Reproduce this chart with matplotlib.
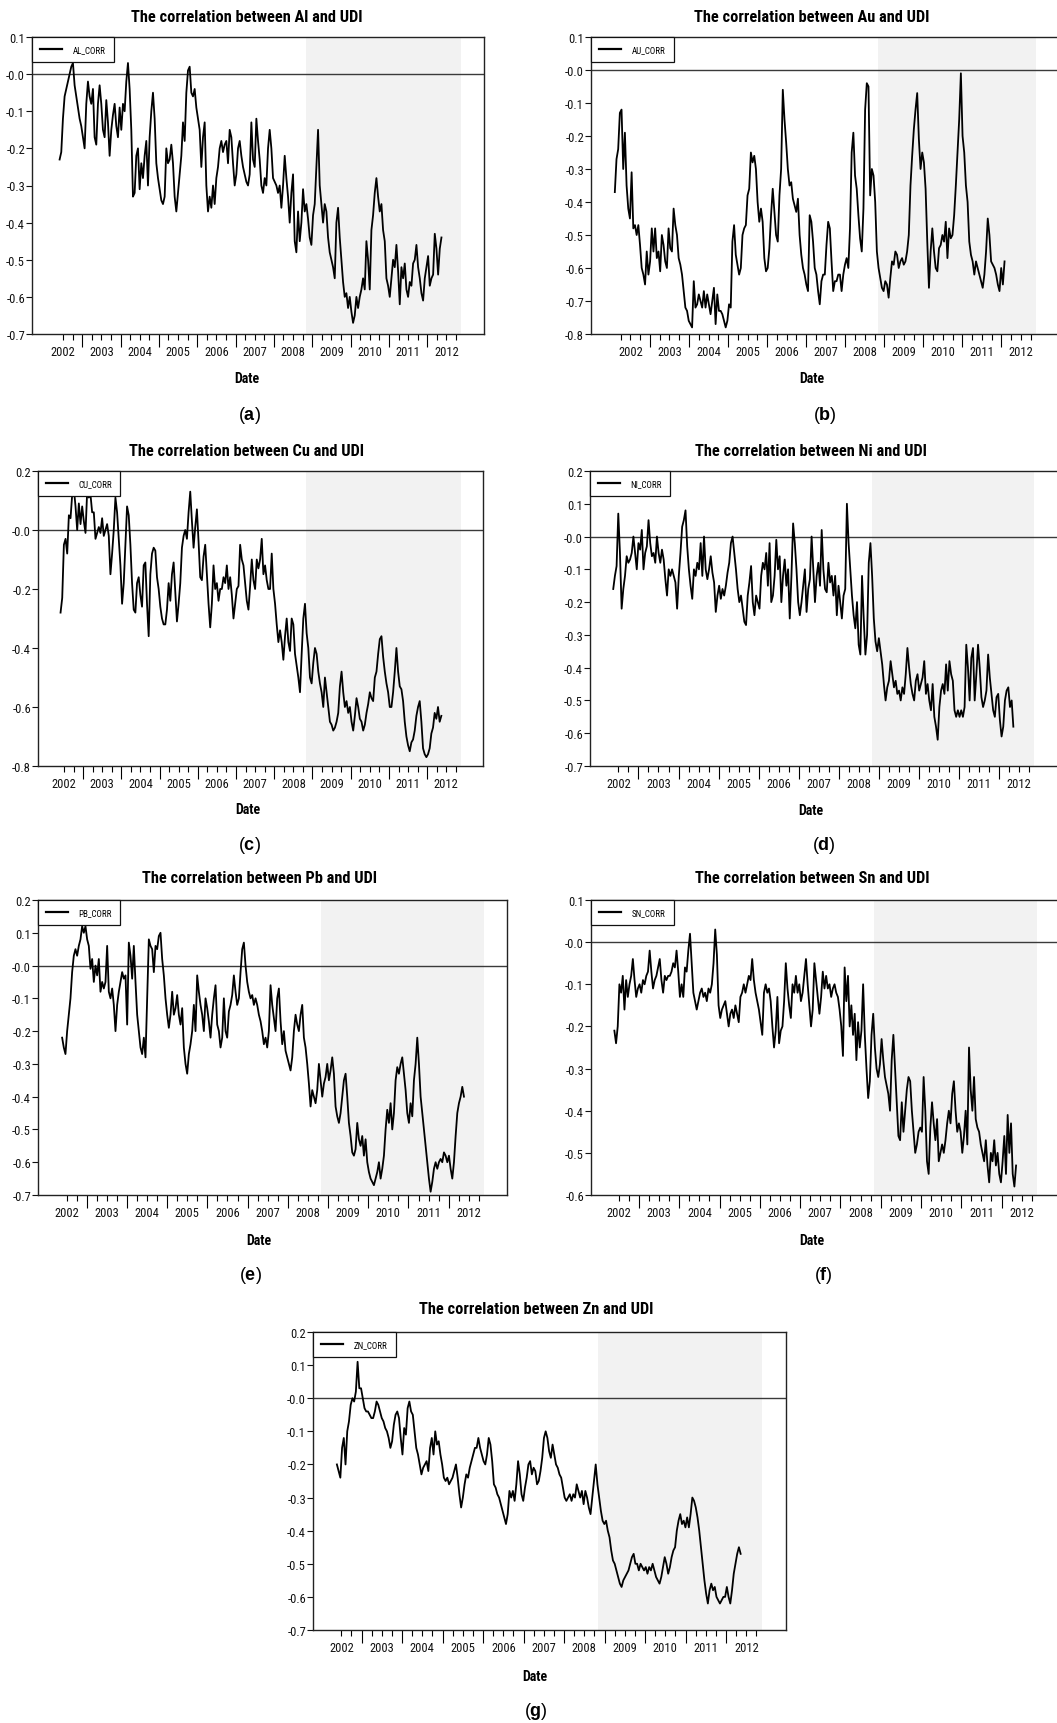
import matplotlib
matplotlib.use("Agg")
import matplotlib.pyplot as plt
import numpy as np
from matplotlib.ticker import FuncFormatter

W, H, DPI = 1057, 1724, 100

NARROW = ["Liberation Sans Narrow", "Roboto Condensed", "PT Sans Narrow", "Liberation Sans"]

plt.rcParams.update({
    "font.family": NARROW,
    "mathtext.fontset": "custom",
    "mathtext.rm": "Liberation Sans",
    "mathtext.bf": "Liberation Sans:bold",
    "axes.linewidth": 1.0,
    "axes.edgecolor": "#222222",
})

# ---------------- data ----------------
YEARS = list(range(2002, 2013))
CRISIS = (2008.83, 2012.88)

AL_SPAN = (2002.41, 2012.37)
AL_CORR = [
    -0.23, -0.21, -0.12, -0.06, -0.04, -0.02, 0.00, 0.02, 0.03, -0.03,
    -0.06, -0.09, -0.12, -0.14, -0.17, -0.20, -0.08, -0.02, -0.06, -0.08,
    -0.04, -0.17, -0.19, -0.08, -0.03, -0.08, -0.15, -0.17, -0.07, -0.13,
    -0.22, -0.15, -0.11, -0.08, -0.14, -0.17, -0.09, -0.15, -0.08, -0.10,
    -0.02, 0.03, -0.04, -0.15, -0.33, -0.32, -0.22, -0.20, -0.31, -0.24,
    -0.28, -0.22, -0.18, -0.30, -0.17, -0.10, -0.05, -0.12, -0.24, -0.28,
    -0.31, -0.34, -0.35, -0.33, -0.20, -0.24, -0.23, -0.19, -0.24, -0.33,
    -0.37, -0.32, -0.27, -0.22, -0.13, -0.18, -0.05, 0.01, 0.02, -0.05,
    -0.06, -0.04, -0.09, -0.12, -0.15, -0.25, -0.17, -0.13, -0.30, -0.37,
    -0.33, -0.36, -0.30, -0.35, -0.28, -0.25, -0.20, -0.18, -0.21, -0.19,
    -0.18, -0.24, -0.15, -0.17, -0.24, -0.30, -0.27, -0.20, -0.18, -0.22,
    -0.25, -0.27, -0.29, -0.30, -0.27, -0.13, -0.23, -0.25, -0.12, -0.18,
    -0.23, -0.30, -0.32, -0.28, -0.30, -0.20, -0.15, -0.20, -0.28, -0.29,
    -0.30, -0.32, -0.30, -0.36, -0.30, -0.22, -0.28, -0.33, -0.40, -0.32,
    -0.27, -0.45, -0.48, -0.37, -0.45, -0.40, -0.31, -0.37, -0.35, -0.39,
    -0.44, -0.46, -0.38, -0.35, -0.25, -0.15, -0.30, -0.35, -0.40, -0.35,
    -0.37, -0.44, -0.48, -0.50, -0.52, -0.55, -0.40, -0.36, -0.44, -0.50,
    -0.56, -0.60, -0.59, -0.63, -0.60, -0.64, -0.67, -0.65, -0.60, -0.63,
    -0.60, -0.58, -0.55, -0.58, -0.45, -0.50, -0.58, -0.42, -0.38, -0.32,
    -0.28, -0.33, -0.37, -0.35, -0.42, -0.45, -0.55, -0.57, -0.60, -0.55,
    -0.50, -0.52, -0.46, -0.53, -0.62, -0.52, -0.55, -0.51, -0.58, -0.60,
    -0.56, -0.57, -0.51, -0.50, -0.46, -0.52, -0.55, -0.59, -0.61, -0.55,
    -0.52, -0.49, -0.57, -0.55, -0.54, -0.43, -0.47, -0.54, -0.47, -0.44,
]

AU_SPAN = (2002.10, 2012.08)
AU_CORR = [
    -0.37, -0.27, -0.24, -0.13, -0.12, -0.30, -0.19, -0.35, -0.42, -0.45,
    -0.31, -0.48, -0.47, -0.50, -0.47, -0.53, -0.60, -0.62, -0.65, -0.55,
    -0.62, -0.58, -0.48, -0.55, -0.48, -0.57, -0.55, -0.61, -0.50, -0.53,
    -0.58, -0.60, -0.48, -0.54, -0.55, -0.42, -0.47, -0.50, -0.57, -0.59,
    -0.62, -0.67, -0.72, -0.73, -0.76, -0.77, -0.78, -0.64, -0.72, -0.71,
    -0.68, -0.70, -0.72, -0.67, -0.72, -0.68, -0.71, -0.74, -0.70, -0.66,
    -0.77, -0.68, -0.73, -0.73, -0.74, -0.76, -0.78, -0.76, -0.71, -0.72,
    -0.52, -0.47, -0.56, -0.59, -0.62, -0.60, -0.50, -0.48, -0.47, -0.38,
    -0.36, -0.25, -0.28, -0.26, -0.30, -0.40, -0.46, -0.42, -0.46, -0.57,
    -0.61, -0.60, -0.54, -0.44, -0.36, -0.43, -0.50, -0.52, -0.38, -0.30,
    -0.06, -0.15, -0.22, -0.30, -0.35, -0.34, -0.39, -0.41, -0.43, -0.39,
    -0.50, -0.56, -0.60, -0.62, -0.65, -0.67, -0.44, -0.46, -0.52, -0.60,
    -0.62, -0.67, -0.71, -0.64, -0.62, -0.62, -0.53, -0.46, -0.48, -0.58,
    -0.67, -0.64, -0.64, -0.62, -0.62, -0.67, -0.62, -0.59, -0.57, -0.60,
    -0.48, -0.25, -0.19, -0.32, -0.36, -0.44, -0.51, -0.55, -0.42, -0.12,
    -0.04, -0.05, -0.38, -0.30, -0.32, -0.40, -0.55, -0.60, -0.63, -0.66,
    -0.67, -0.64, -0.65, -0.69, -0.63, -0.58, -0.59, -0.55, -0.56, -0.60,
    -0.58, -0.57, -0.59, -0.58, -0.55, -0.50, -0.35, -0.26, -0.18, -0.12,
    -0.07, -0.21, -0.30, -0.25, -0.28, -0.36, -0.52, -0.66, -0.55, -0.48,
    -0.55, -0.60, -0.61, -0.54, -0.53, -0.50, -0.52, -0.46, -0.57, -0.48,
    -0.51, -0.50, -0.44, -0.35, -0.25, -0.15, -0.01, -0.20, -0.25, -0.35,
    -0.40, -0.52, -0.56, -0.58, -0.62, -0.58, -0.60, -0.62, -0.64, -0.66,
    -0.62, -0.55, -0.45, -0.50, -0.58, -0.59, -0.60, -0.62, -0.65, -0.67,
    -0.60, -0.65, -0.58,
]

CU_SPAN = (2002.41, 2012.37)
CU_CORR = [
    -0.28, -0.23, -0.05, -0.03, -0.08, 0.05, 0.04, 0.12, 0.14, 0.08,
    0.00, 0.09, 0.02, 0.08, 0.03, -0.01, 0.13, 0.11, 0.12, 0.06,
    0.06, -0.03, -0.01, 0.01, -0.01, 0.04, -0.02, 0.00, 0.02, -0.02,
    -0.15, -0.08, 0.00, 0.11, 0.06, -0.03, -0.12, -0.25, -0.18, -0.05,
    0.08, 0.05, -0.05, -0.18, -0.27, -0.28, -0.18, -0.16, -0.22, -0.26,
    -0.12, -0.11, -0.25, -0.36, -0.15, -0.08, -0.06, -0.07, -0.16, -0.20,
    -0.26, -0.30, -0.32, -0.32, -0.27, -0.18, -0.24, -0.15, -0.11, -0.21,
    -0.31, -0.25, -0.18, -0.06, -0.02, 0.00, -0.03, 0.06, 0.13, 0.03,
    -0.06, 0.01, 0.07, -0.04, -0.16, -0.17, -0.09, -0.05, -0.15, -0.25,
    -0.33, -0.25, -0.12, -0.20, -0.18, -0.24, -0.20, -0.20, -0.16, -0.18,
    -0.12, -0.20, -0.16, -0.22, -0.30, -0.25, -0.20, -0.19, -0.05, -0.10,
    -0.12, -0.18, -0.24, -0.27, -0.19, -0.10, -0.17, -0.20, -0.10, -0.13,
    -0.10, -0.03, -0.15, -0.12, -0.17, -0.20, -0.20, -0.08, -0.20, -0.25,
    -0.32, -0.38, -0.34, -0.38, -0.44, -0.36, -0.30, -0.38, -0.41, -0.30,
    -0.32, -0.42, -0.46, -0.50, -0.55, -0.42, -0.30, -0.25, -0.35, -0.40,
    -0.50, -0.52, -0.45, -0.40, -0.42, -0.48, -0.52, -0.55, -0.60, -0.50,
    -0.55, -0.60, -0.65, -0.66, -0.68, -0.67, -0.65, -0.62, -0.53, -0.48,
    -0.55, -0.60, -0.58, -0.62, -0.60, -0.65, -0.68, -0.63, -0.57, -0.60,
    -0.64, -0.65, -0.68, -0.66, -0.62, -0.59, -0.55, -0.57, -0.58, -0.50,
    -0.48, -0.42, -0.37, -0.36, -0.43, -0.48, -0.52, -0.55, -0.60, -0.60,
    -0.55, -0.48, -0.40, -0.48, -0.53, -0.54, -0.58, -0.65, -0.70, -0.73,
    -0.75, -0.72, -0.71, -0.68, -0.63, -0.60, -0.58, -0.65, -0.74, -0.76,
    -0.77, -0.76, -0.74, -0.69, -0.67, -0.62, -0.64, -0.60, -0.65, -0.63,
]

NI_SPAN = (2002.37, 2012.36)
NI_CORR = [
    -0.16, -0.12, -0.09, 0.07, -0.05, -0.22, -0.16, -0.12, -0.06, -0.08,
    -0.07, -0.05, 0.00, -0.05, -0.10, -0.02, -0.04, 0.02, -0.10, -0.05,
    -0.03, 0.05, -0.02, -0.06, -0.05, -0.08, 0.00, -0.05, -0.08, -0.04,
    -0.07, -0.13, -0.18, -0.10, -0.12, -0.10, -0.12, -0.14, -0.22, -0.12,
    -0.05, 0.03, 0.05, 0.08, -0.03, -0.10, -0.15, -0.19, -0.10, -0.12,
    -0.08, -0.10, -0.02, -0.12, 0.00, -0.10, -0.13, -0.10, -0.06, -0.11,
    -0.14, -0.23, -0.18, -0.15, -0.19, -0.16, -0.18, -0.15, -0.11, -0.08,
    -0.02, 0.00, -0.05, -0.10, -0.16, -0.20, -0.18, -0.22, -0.26, -0.27,
    -0.18, -0.14, -0.09, -0.20, -0.24, -0.18, -0.20, -0.22, -0.12, -0.08,
    -0.10, -0.05, -0.15, -0.02, -0.20, -0.18, -0.12, -0.01, -0.10, -0.06,
    -0.20, -0.12, -0.07, -0.15, -0.10, -0.25, -0.12, 0.04, -0.02, -0.10,
    -0.20, -0.24, -0.20, -0.15, -0.10, -0.23, -0.16, -0.13, 0.00, -0.10,
    -0.20, -0.12, -0.08, -0.15, 0.02, -0.10, -0.16, -0.17, -0.08, -0.14,
    -0.12, -0.18, -0.12, -0.24, -0.15, -0.20, -0.25, -0.18, -0.16, 0.10,
    -0.02, -0.10, -0.18, -0.24, -0.28, -0.20, -0.33, -0.36, -0.12, -0.25,
    -0.36, -0.30, -0.08, -0.02, -0.12, -0.25, -0.32, -0.35, -0.31, -0.35,
    -0.39, -0.45, -0.50, -0.46, -0.44, -0.38, -0.42, -0.46, -0.44, -0.48,
    -0.47, -0.50, -0.46, -0.48, -0.42, -0.34, -0.40, -0.45, -0.48, -0.50,
    -0.44, -0.42, -0.47, -0.45, -0.43, -0.38, -0.48, -0.45, -0.50, -0.53,
    -0.45, -0.55, -0.58, -0.62, -0.52, -0.47, -0.45, -0.48, -0.39, -0.47,
    -0.38, -0.42, -0.44, -0.53, -0.55, -0.53, -0.55, -0.53, -0.55, -0.52,
    -0.33, -0.40, -0.50, -0.37, -0.34, -0.50, -0.42, -0.33, -0.40, -0.49,
    -0.52, -0.50, -0.47, -0.36, -0.43, -0.48, -0.53, -0.55, -0.49, -0.48,
    -0.56, -0.61, -0.58, -0.50, -0.47, -0.46, -0.52, -0.50, -0.58,
]

PB_SPAN = (2002.39, 2012.38)
PB_CORR = [
    -0.22, -0.25, -0.27, -0.20, -0.15, -0.10, -0.02, 0.03, 0.05, 0.03,
    0.06, 0.08, 0.12, 0.10, 0.12, 0.08, 0.06, -0.01, 0.02, -0.05,
    0.00, -0.03, 0.02, -0.08, -0.05, -0.07, -0.05, 0.06, -0.08, -0.10,
    -0.07, -0.12, -0.20, -0.12, -0.08, -0.05, -0.02, -0.04, -0.03, -0.18,
    0.07, 0.03, -0.04, 0.06, -0.05, -0.15, -0.20, -0.25, -0.27, -0.22,
    -0.28, -0.10, 0.08, 0.06, 0.05, -0.02, 0.06, 0.05, 0.09, 0.10,
    0.02, -0.03, -0.10, -0.15, -0.19, -0.15, -0.08, -0.15, -0.13, -0.09,
    -0.15, -0.18, -0.13, -0.25, -0.30, -0.33, -0.27, -0.24, -0.20, -0.12,
    -0.20, -0.03, -0.08, -0.12, -0.15, -0.20, -0.10, -0.13, -0.17, -0.22,
    -0.15, -0.10, -0.06, -0.18, -0.20, -0.25, -0.22, -0.10, -0.20, -0.22,
    -0.14, -0.12, -0.09, -0.03, -0.08, -0.12, -0.10, -0.02, 0.05, 0.07,
    0.00, -0.05, -0.08, -0.10, -0.09, -0.12, -0.10, -0.12, -0.15, -0.17,
    -0.20, -0.24, -0.22, -0.25, -0.20, -0.06, -0.12, -0.16, -0.20, -0.10,
    -0.07, -0.17, -0.24, -0.20, -0.26, -0.28, -0.30, -0.32, -0.28, -0.20,
    -0.15, -0.18, -0.20, -0.15, -0.12, -0.22, -0.25, -0.30, -0.36, -0.43,
    -0.38, -0.40, -0.42, -0.38, -0.30, -0.35, -0.40, -0.36, -0.34, -0.30,
    -0.35, -0.32, -0.28, -0.33, -0.43, -0.46, -0.48, -0.45, -0.40, -0.35,
    -0.33, -0.40, -0.48, -0.52, -0.57, -0.58, -0.56, -0.48, -0.53, -0.55,
    -0.52, -0.58, -0.53, -0.60, -0.63, -0.65, -0.66, -0.67, -0.65, -0.63,
    -0.60, -0.65, -0.62, -0.58, -0.50, -0.44, -0.48, -0.42, -0.50, -0.45,
    -0.35, -0.31, -0.33, -0.30, -0.28, -0.33, -0.38, -0.45, -0.48, -0.42,
    -0.46, -0.35, -0.30, -0.22, -0.30, -0.40, -0.45, -0.50, -0.55, -0.60,
    -0.65, -0.69, -0.66, -0.62, -0.60, -0.62, -0.60, -0.59, -0.60, -0.57,
    -0.58, -0.60, -0.58, -0.62, -0.65, -0.60, -0.52, -0.45, -0.42, -0.40,
    -0.37, -0.40,
]

SN_SPAN = (2002.39, 2012.36)
SN_CORR = [
    -0.21, -0.24, -0.20, -0.10, -0.12, -0.08, -0.16, -0.09, -0.13, -0.10,
    -0.08, -0.04, -0.09, -0.13, -0.11, -0.10, -0.12, -0.09, -0.10, -0.08,
    -0.07, -0.02, -0.07, -0.11, -0.09, -0.08, -0.06, -0.04, -0.09, -0.12,
    -0.08, -0.09, -0.08, -0.08, -0.07, -0.05, -0.06, -0.02, -0.07, -0.13,
    -0.10, -0.13, -0.06, -0.07, -0.02, 0.02, -0.05, -0.12, -0.14, -0.16,
    -0.14, -0.12, -0.11, -0.13, -0.12, -0.14, -0.11, -0.12, -0.10, -0.05,
    0.03, -0.03, -0.15, -0.18, -0.16, -0.15, -0.14, -0.17, -0.20, -0.17,
    -0.16, -0.18, -0.15, -0.17, -0.19, -0.13, -0.12, -0.10, -0.12, -0.10,
    -0.08, -0.09, -0.04, -0.09, -0.12, -0.14, -0.16, -0.19, -0.22, -0.12,
    -0.10, -0.12, -0.11, -0.14, -0.20, -0.25, -0.21, -0.13, -0.24, -0.21,
    -0.20, -0.14, -0.05, -0.11, -0.15, -0.18, -0.10, -0.12, -0.08, -0.12,
    -0.10, -0.14, -0.12, -0.08, -0.04, -0.10, -0.15, -0.20, -0.16, -0.05,
    -0.09, -0.13, -0.17, -0.13, -0.07, -0.11, -0.08, -0.11, -0.10, -0.13,
    -0.11, -0.10, -0.12, -0.13, -0.16, -0.20, -0.27, -0.06, -0.14, -0.08,
    -0.20, -0.15, -0.22, -0.17, -0.28, -0.19, -0.25, -0.21, -0.10, -0.22,
    -0.30, -0.37, -0.33, -0.22, -0.17, -0.25, -0.30, -0.32, -0.29, -0.23,
    -0.28, -0.32, -0.34, -0.36, -0.40, -0.28, -0.22, -0.30, -0.38, -0.46,
    -0.47, -0.38, -0.45, -0.40, -0.35, -0.32, -0.33, -0.40, -0.45, -0.50,
    -0.48, -0.45, -0.44, -0.45, -0.32, -0.40, -0.52, -0.55, -0.44, -0.38,
    -0.43, -0.47, -0.42, -0.52, -0.50, -0.48, -0.50, -0.47, -0.43, -0.40,
    -0.43, -0.36, -0.33, -0.40, -0.45, -0.43, -0.45, -0.50, -0.46, -0.40,
    -0.48, -0.25, -0.35, -0.40, -0.32, -0.42, -0.44, -0.45, -0.48, -0.50,
    -0.52, -0.47, -0.53, -0.57, -0.50, -0.52, -0.47, -0.53, -0.50, -0.55,
    -0.57, -0.52, -0.46, -0.55, -0.41, -0.50, -0.43, -0.55, -0.58, -0.53,
]

ZN_SPAN = (2002.39, 2012.36)
ZN_CORR = [
    -0.20, -0.22, -0.24, -0.15, -0.12, -0.20, -0.10, -0.07, -0.02, 0.00,
    -0.01, 0.02, 0.11, 0.03, 0.03, 0.00, -0.03, -0.04, -0.04, -0.05,
    -0.06, -0.06, -0.04, -0.01, -0.02, -0.04, -0.06, -0.07, -0.09, -0.10,
    -0.12, -0.15, -0.13, -0.08, -0.05, -0.04, -0.06, -0.12, -0.17, -0.09,
    -0.11, -0.03, -0.01, -0.04, -0.05, -0.10, -0.15, -0.17, -0.20, -0.23,
    -0.21, -0.20, -0.19, -0.22, -0.15, -0.12, -0.17, -0.10, -0.14, -0.13,
    -0.17, -0.20, -0.24, -0.25, -0.24, -0.26, -0.25, -0.24, -0.22, -0.20,
    -0.24, -0.29, -0.33, -0.30, -0.26, -0.23, -0.24, -0.21, -0.19, -0.17,
    -0.15, -0.15, -0.12, -0.15, -0.17, -0.19, -0.20, -0.17, -0.12, -0.14,
    -0.19, -0.26, -0.27, -0.29, -0.30, -0.32, -0.34, -0.36, -0.38, -0.35,
    -0.28, -0.30, -0.28, -0.31, -0.26, -0.19, -0.23, -0.29, -0.31, -0.27,
    -0.24, -0.20, -0.19, -0.23, -0.21, -0.22, -0.26, -0.25, -0.22, -0.18,
    -0.12, -0.10, -0.12, -0.16, -0.18, -0.14, -0.17, -0.20, -0.21, -0.23,
    -0.24, -0.27, -0.30, -0.31, -0.30, -0.29, -0.31, -0.29, -0.30, -0.26,
    -0.28, -0.30, -0.28, -0.32, -0.28, -0.30, -0.33, -0.35, -0.30, -0.25,
    -0.20, -0.26, -0.30, -0.34, -0.37, -0.38, -0.37, -0.40, -0.42, -0.46,
    -0.49, -0.50, -0.52, -0.54, -0.56, -0.57, -0.55, -0.54, -0.53, -0.52,
    -0.50, -0.48, -0.47, -0.50, -0.50, -0.52, -0.50, -0.51, -0.52, -0.51,
    -0.53, -0.51, -0.52, -0.50, -0.52, -0.54, -0.55, -0.56, -0.54, -0.51,
    -0.48, -0.50, -0.53, -0.51, -0.48, -0.46, -0.45, -0.40, -0.37, -0.35,
    -0.38, -0.37, -0.39, -0.36, -0.39, -0.35, -0.30, -0.31, -0.33, -0.36,
    -0.40, -0.45, -0.50, -0.55, -0.59, -0.62, -0.58, -0.56, -0.58, -0.57,
    -0.60, -0.61, -0.62, -0.61, -0.60, -0.60, -0.57, -0.60, -0.62, -0.58,
    -0.53, -0.50, -0.47, -0.45, -0.47,
]

# ---------------- layout (pixel boxes: left, top, right, bottom) ----------------
PANELS = [
    dict(tag="a", metal="Al", name="AL_CORR", vals=AL_CORR, span=AL_SPAN,
         ylim=(-0.7, 0.1), ystep=0.1, box=(32, 38, 484, 335), xlim=(2001.69, 2013.48),
         title=(247, 17), date=(247, 379), lab=(249, 416)),
    dict(tag="b", metal="Au", name="AU_CORR", vals=AU_CORR, span=AU_SPAN,
         ylim=(-0.8, 0.1), ystep=0.1, box=(591, 38, 1060, 335), xlim=(2001.49, 2013.5),
         title=(812, 17), date=(812, 379), lab=(825, 416)),
    dict(tag="c", metal="Cu", name="CU_CORR", vals=CU_CORR, span=CU_SPAN,
         ylim=(-0.8, 0.2), ystep=0.2, box=(38, 472, 483, 767), xlim=(2001.82, 2013.46),
         title=(247, 451), date=(248, 810), lab=(249, 846)),
    dict(tag="d", metal="Ni", name="NI_CORR", vals=NI_CORR, span=NI_SPAN,
         ylim=(-0.7, 0.2), ystep=0.1, box=(590, 472, 1059, 767), xlim=(2001.79, 2013.5),
         title=(811, 452), date=(811, 811), lab=(824, 846)),
    dict(tag="e", metal="Pb", name="PB_CORR", vals=PB_CORR, span=PB_SPAN,
         ylim=(-0.7, 0.2), ystep=0.1, box=(38, 901, 507, 1196), xlim=(2001.79, 2013.45),
         title=(260, 879), date=(259, 1241), lab=(250, 1276)),
    dict(tag="f", metal="Sn", name="SN_CORR", vals=SN_CORR, span=SN_SPAN,
         ylim=(-0.6, 0.1), ystep=0.1, box=(591, 901, 1062, 1196), xlim=(2001.81, 2013.5),
         title=(812, 879), date=(812, 1241), lab=(823, 1276)),
    dict(tag="g", metal="Zn", name="ZN_CORR", vals=ZN_CORR, span=ZN_SPAN,
         ylim=(-0.7, 0.2), ystep=0.1, box=(313, 1333, 786, 1631), xlim=(2001.80, 2013.48),
         title=(536, 1310), date=(535, 1677), lab=(536, 1712)),
]


def ylabel_fmt(v, pos):
    if abs(v) < 1e-9:
        return "-0.0"
    return f"{v:.1f}".replace("\u2212", "-")


def fx(px):
    return px / W


def fy(py):
    return 1 - py / H


def draw_panel(fig, p):
    l, t, r, b = p["box"]
    ax = fig.add_axes([fx(l), fy(b), (r - l) / W, (b - t) / H])
    ax.axvspan(*CRISIS, color="#f2f2f2", lw=0, zorder=0)
    x = np.linspace(p["span"][0], p["span"][1], len(p["vals"]))
    ax.plot(x, p["vals"], color="black", lw=1.3, label=p["name"], zorder=3)
    ax.axhline(0, color="#3a3a3a", lw=1.0, zorder=2)
    ax.set_xlim(*p["xlim"])
    ax.set_ylim(*p["ylim"])

    y0, y1 = p["ylim"]
    ax.set_yticks(np.round(np.arange(y0, y1 + 1e-9, p["ystep"]), 2))
    ax.yaxis.set_major_formatter(FuncFormatter(ylabel_fmt))
    ax.tick_params(axis="y", direction="out", length=4, width=0.8, pad=1,
                   labelsize=9, colors="#111111")

    ax.set_xticks(range(2003, 2013))
    q0 = int(np.ceil(p["span"][0] * 4))
    quarters = [q / 4 for q in range(q0, 2012 * 4 + 4) if q % 4]
    ax.set_xticks(quarters, minor=True)
    ax.tick_params(axis="x", which="major", direction="out", length=9, width=0.8,
                   labelbottom=False)
    ax.tick_params(axis="x", which="minor", direction="out", length=4.5, width=0.8)
    for yr in YEARS:
        ax.annotate(str(yr), xy=(yr + 0.5, 0), xycoords=("data", "axes fraction"),
                    xytext=(0, -18), textcoords="offset pixels",
                    ha="center", va="center", fontsize=9, color="#111111")

    leg = ax.legend(loc="upper left", borderaxespad=0, fancybox=False,
                    edgecolor="#111111", framealpha=1, fontsize=6.5,
                    handlelength=2.4, handletextpad=1.2, borderpad=0.9)
    leg.get_frame().set_linewidth(0.9)
    leg.get_lines()[0].set_linewidth(1.6)

    fig.text(fx(p["title"][0]), fy(p["title"][1]),
             f"The correlation between {p['metal']} and UDI",
             ha="center", va="center", fontsize=11.8, weight="bold")
    fig.text(fx(p["date"][0]), fy(p["date"][1]), "Date",
             ha="center", va="center", fontsize=10, weight="bold")
    fig.text(fx(p["lab"][0]), fy(p["lab"][1]), r"($\mathbf{" + p["tag"] + "}$)",
             ha="center", va="center", fontsize=13, family="Liberation Sans")
    return ax


fig = plt.figure(figsize=(W / DPI, H / DPI), dpi=DPI)
for p in PANELS:
    draw_panel(fig, p)

fig.savefig("out.png", dpi=DPI, facecolor="white")
